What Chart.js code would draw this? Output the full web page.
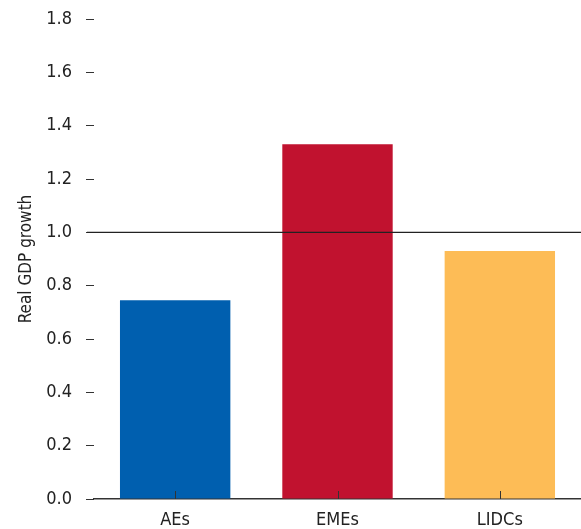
<!DOCTYPE html>
<html>
<head>
<meta charset="utf-8">
<script src="https://cdn.jsdelivr.net/npm/chart.js@4/dist/chart.umd.min.js"></script>
<style>
  html, body { margin: 0; padding: 0; background: #fff; }
  #wrap { width: 581px; height: 529px; position: relative; }
</style>
</head>
<body>
<div id="wrap"><canvas id="c"></canvas></div>
<script>
// Country groups and their real GDP growth ratio
const categories = ['AEs', 'EMEs', 'LIDCs'];
const growthValues = [0.745, 1.33, 0.93];
const barColors = ['#005FAF', '#C1122F', '#FDBC56'];
const yTicks = [0, 0.2, 0.4, 0.6, 0.8, 1.0, 1.2, 1.4, 1.6, 1.8];
const referenceLevel = 1.0;

const FONT = '"Liberation Sans Narrow", "Arial Narrow", "DejaVu Sans Condensed", sans-serif';

// Reference line at 1.0 and short upward category ticks on the baseline
const extras = {
  id: 'extras',
  afterDatasetsDraw(chart) {
    const { ctx, chartArea, scales } = chart;
    const y = scales.y.getPixelForValue(referenceLevel);
    ctx.save();
    ctx.strokeStyle = '#222';
    ctx.lineWidth = 1.3;
    ctx.beginPath();
    ctx.moveTo(chartArea.left - 7, y);
    ctx.lineTo(chartArea.right, y);
    ctx.stroke();

    const base = scales.y.getPixelForValue(0);
    ctx.strokeStyle = '#333';
    ctx.lineWidth = 1;
    categories.forEach((_, i) => {
      const x = Math.round(scales.x.getPixelForTick(i)) + 0.5;
      ctx.beginPath();
      ctx.moveTo(x, base);
      ctx.lineTo(x, base - 8);
      ctx.stroke();
    });
    ctx.restore();
  }
};

new Chart(document.getElementById('c'), {
  type: 'bar',
  data: {
    labels: categories,
    datasets: [{
      data: growthValues,
      backgroundColor: barColors,
      borderWidth: 0,
      barPercentage: 0.68,
      categoryPercentage: 1.0
    }]
  },
  options: {
    responsive: true,
    maintainAspectRatio: false,
    animation: false,
    devicePixelRatio: 1,
    layout: { padding: { top: 19, right: 0, left: 0, bottom: 0 } },
    plugins: { legend: { display: false }, tooltip: { enabled: false } },
    scales: {
      x: {
        grid: { display: false },
        border: { display: true, color: '#333', width: 1.5 },
        ticks: { color: '#222', font: { family: FONT, size: 18 }, padding: 3 },
        afterFit(scale) { scale.height = 30; }
      },
      y: {
        min: 0,
        max: 1.8,
        afterBuildTicks(scale) { scale.ticks = yTicks.map(v => ({ value: v })); },
        grid: { drawOnChartArea: false, drawTicks: true, tickLength: 8, color: '#333', lineWidth: 1 },
        border: { display: false },
        ticks: {
          color: '#222',
          font: { family: FONT, size: 18 },
          padding: 14,
          callback: v => Number(v).toFixed(1)
        },
        title: {
          display: true,
          text: 'Real GDP growth',
          color: '#222',
          font: { family: FONT, size: 17 },
          padding: { top: 16, bottom: 4 }
        },
        afterFit(scale) {
          scale.width = 94;
          scale.paddingTop = 0;
          scale.paddingBottom = 0;
        }
      }
    }
  },
  plugins: [extras]
});
</script>
</body>
</html>
